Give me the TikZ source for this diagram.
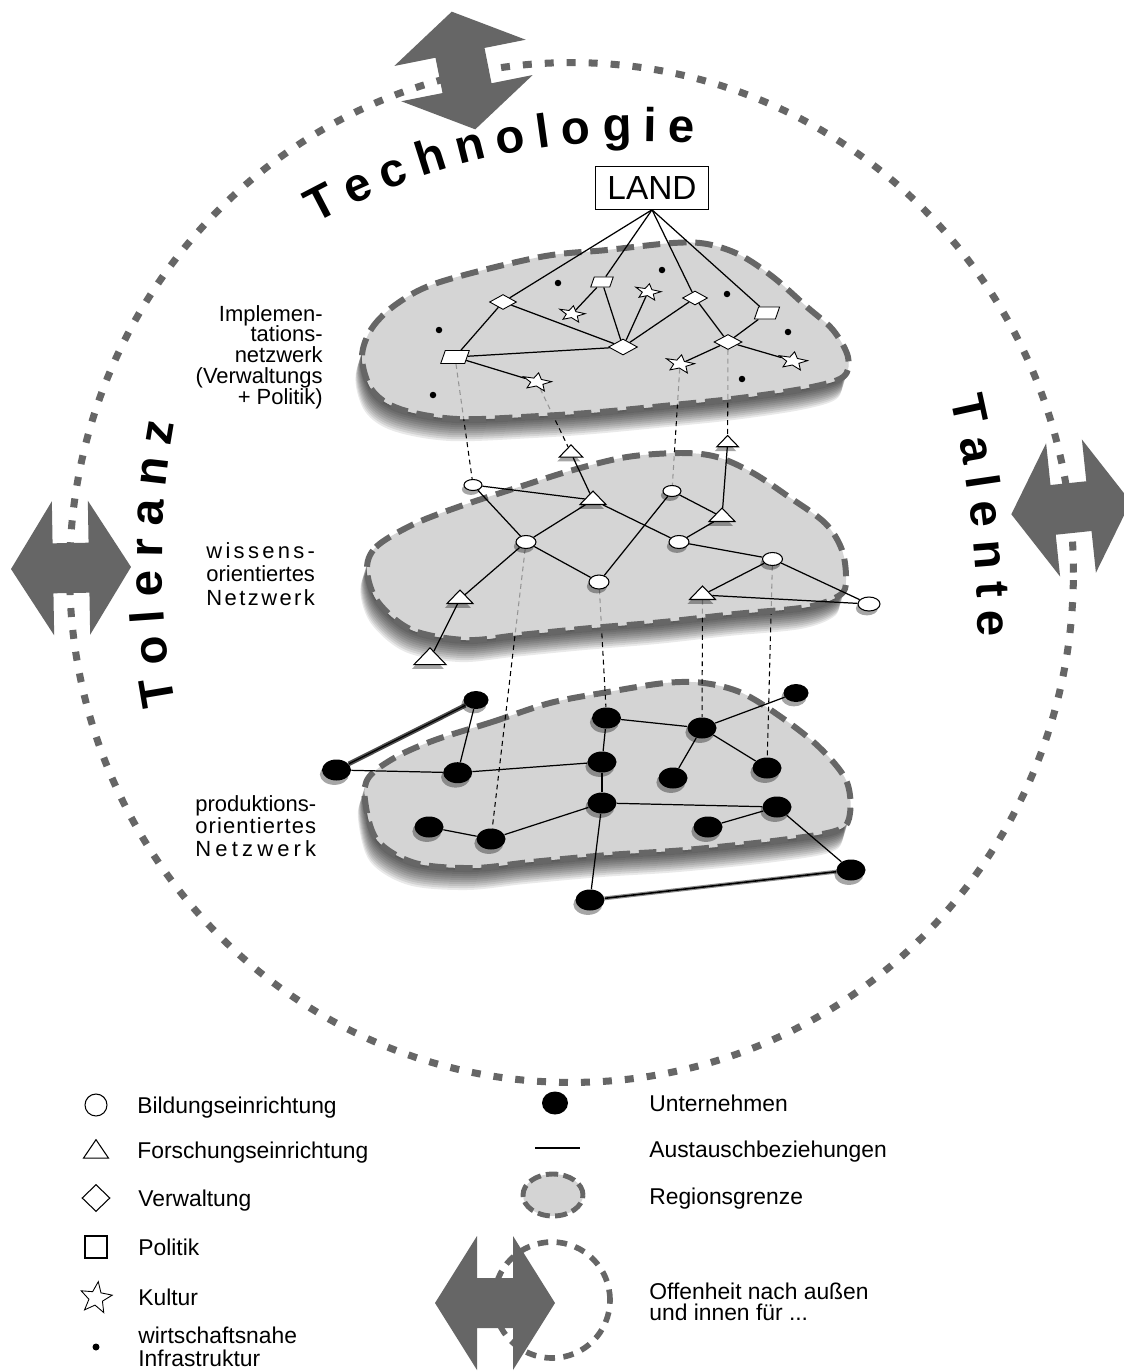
\documentclass[tikz,border=0pt]{standalone}
\usepackage{fontspec}
\setmainfont{Liberation Sans}
\usetikzlibrary{shapes.geometric,decorations.text,shadows}
\definecolor{dk}{gray}{0.4}
\definecolor{blobfill}{gray}{0.78}
\definecolor{blobsolid}{gray}{0.83}
\pgfdeclarelayer{shad}
\pgfdeclarelayer{base}
\pgfdeclarelayer{conn}
\pgfdeclarelayer{fillL}
\pgfdeclarelayer{edgeL}
\pgfsetlayers{shad,base,conn,fillL,edgeL,main}
\newlength\orw
\newlength\prw
\newcommand\bigtxt{\fontsize{27}{27}\selectfont\bfseries}
\newcommand\labfont{\fontsize{12.5}{12}\selectfont}
\newcommand\blobA{plot[smooth cycle, tension=0.55] coordinates {(362,357) (372,328) (398,303) (440,282) (540,257) (607,250) (673,243) (707,244) (740,255) (773,277) (807,307) (833,330) (848,357) (843,377) (807,388) (740,398) (673,405) (600,412) (540,416) (457,419) (400,409) (372,390)}}
\newcommand\blobB{plot[smooth cycle, tension=0.55] coordinates {(367,570) (376,547) (412,525) (458,507) (519,487) (573,470) (627,457) (681,453) (717,457) (753,473) (789,497) (825,523) (842,550) (846,580) (840,595) (807,607) (735,614) (663,622) (591,628) (519,635) (466,640) (412,630) (378,602)}}
\newcommand\blobC{plot[smooth cycle, tension=0.55] coordinates {(435,740) (492,722) (550,703) (608,692) (665,683) (704,683) (742,693) (781,717) (819,747) (846,780) (850,813) (838,830) (781,840) (685,850) (608,855) (531,862) (473,868) (415,863) (377,840) (365,800) (369,777) (396,757)}}
\newcommand\dblarrow[3]{\begin{scope}[shift={(#1,#2)}, rotate=#3]
\fill[dk] (60,0) -- (18,67) -- (18,25) -- (-18,25) -- (-18,67) -- (-60,0) -- (-18,-67) -- (-18,-25) -- (18,-25) -- (18,-67) -- cycle;
\end{scope}}
\tikzset{
  blobborder/.style={draw=dk, line width=3.4pt, dash pattern=on 10pt off 5pt},
  ed/.style={line width=0.7pt},
  vd/.style={line width=0.6pt, dash pattern=on 2.8pt off 2.2pt},
  dia/.style={diamond, draw, fill=white, inner sep=0pt, line width=0.5pt},
  sqr/.style={rectangle, draw, fill=white, inner sep=0pt, line width=0.5pt, xslant=0.35},
  kst/.style={star, star points=5, star point ratio=2.3, draw, fill=white, inner sep=0pt, line width=0.5pt, minimum size=6mm, rotate=-10, yscale=0.62},
  idot/.style={circle, fill=black, inner sep=0pt, minimum size=1.3mm},
  nsh/.style={drop shadow={shadow xshift=-1.2pt, shadow yshift=-2.5pt, opacity=0.35, fill=black}},
  bel/.style={ellipse, draw, fill=white, inner sep=0pt, line width=0.6pt, minimum width=4mm, minimum height=2.6mm, nsh},
  tri/.style={regular polygon, regular polygon sides=3, draw, fill=white, inner sep=0pt, line width=0.6pt, minimum size=6mm, yscale=0.6, nsh},
  pdot/.style={ellipse, fill=black, inner sep=0pt, minimum width=5.8mm, minimum height=4.2mm, nsh},
  leg/.style={anchor=base west, inner sep=0pt, font=\fontsize{13}{12.5}\selectfont},
  legm/.style={anchor=west, inner sep=0pt, align=left},
}
\begin{document}
\settowidth{\orw}{\labfont orientiertes}%
\settowidth{\prw}{\labfont produktions-}%
\begin{tikzpicture}[x=0.02cm, y=-0.02cm]
\useasboundingbox (0,0) rectangle (1124,1372);
\begin{pgfonlayer}{shad}
\fill[white] (0,0) rectangle (1124,1372);
\foreach \s in {2,4,...,22}{
  \fill[black, opacity=0.085, shift={({-0.3*\s},\s)}] \blobA;
  \fill[black, opacity=0.085, shift={({-0.3*\s},\s)}] \blobB;
  \fill[black, opacity=0.085, shift={({-0.3*\s},\s)}] \blobC;
}
\end{pgfonlayer}
\begin{pgfonlayer}{base}
\fill[white] \blobA;
\fill[white] \blobB;
\fill[blobsolid] \blobC;
\draw[blobborder] \blobC;
\end{pgfonlayer}
\begin{pgfonlayer}{fillL}
\fill[blobfill, fill opacity=0.75] \blobA;
\draw[blobborder] \blobA;
\fill[blobfill, fill opacity=0.75] \blobB;
\draw[blobborder] \blobB;
\end{pgfonlayer}

% big circle and arrows
\draw[dk, line width=4pt, dash pattern=on 5.1pt off 7.4pt] (571.5,572.5) ellipse [x radius=10.04cm, y radius=10.2cm];
\dblarrow{463.5}{70.5}{101.3}
\dblarrow{71}{568}{1}
\dblarrow{1071}{508}{6}

% curved words
\path[decorate, decoration={text along path, text align={fit to path}, text={|\bigtxt|Technologie}}]
  ({638+672*cos(118.7)},{813-672*sin(118.7)}) arc[start angle=118.7, end angle=85.2, radius=13.44cm];
\path[decorate, decoration={text along path, text align={fit to path}, text={|\bigtxt|Toleranz}}]
  ({930+768*cos(190.7)},{562-768*sin(190.7)}) arc[start angle=190.7, end angle=169.6, radius=15.36cm];
\path[decorate, decoration={text along path, text align={fit to path}, text={|\bigtxt|Talente}}]
  ({-109.6+1088*cos(13)},{643.4-1088*sin(13)}) arc[start angle=13, end angle=0.35, radius=21.76cm];

% LAND
\node[draw, line width=0.6pt, minimum width=22.6mm, minimum height=8.5mm, inner sep=0pt, font=\fontsize{19}{19}\selectfont] (LAND) at (652,188) {LAND};

% layer 1 nodes
\node[dia, minimum width=5.4mm, minimum height=3mm] (D1) at (503,302) {};
\node[dia, minimum width=5mm, minimum height=2.8mm] (D2) at (695,298) {};
\node[dia, minimum width=5.8mm, minimum height=3.2mm] (D3) at (623,347) {};
\node[dia, minimum width=5.6mm, minimum height=3mm] (D4) at (728,342) {};
\node[sqr, minimum width=3.8mm, minimum height=2mm] (S1) at (602,282) {};
\node[sqr, minimum width=4.2mm, minimum height=2.4mm] (S2) at (767,313) {};
\node[sqr, minimum width=4.8mm, minimum height=2.6mm] (S3) at (455,357) {};
\node[kst, minimum size=5.4mm] (K1) at (648,292) {};
\node[kst, minimum size=5.4mm] (K2) at (572,314) {};
\node[kst] (K3) at (537,382) {};
\node[kst] (K4) at (680,364) {};
\node[kst] (K5) at (793,361) {};
\node[idot] (I1) at (558,283) {};
\node[idot] (I2) at (662,270) {};
\node[idot] (I3) at (727,294) {};
\node[idot] (I4) at (439,330) {};
\node[idot] (I5) at (788,332) {};
\node[idot] (I6) at (433,395) {};
\node[idot] (I7) at (742,379) {};

% layer 2 nodes
\node[tri, minimum size=5.4mm] (Ta) at (571,453) {};
\node[tri, minimum size=5mm] (Tb) at (727.6,443) {};
\node[tri] (T1) at (593,500) {};
\node[tri] (T2) at (722,517) {};
\node[tri] (T3) at (702.5,595) {};
\node[tri] (T4) at (460,599) {};
\node[tri, minimum size=7.4mm] (T5) at (430,659) {};
\node[bel, minimum width=3.6mm, minimum height=2.2mm] (E1) at (473,485) {};
\node[bel, minimum width=3.6mm, minimum height=2.2mm] (E2) at (672,491) {};
\node[bel] (E3) at (526,542) {};
\node[bel] (E4) at (679,542) {};
\node[bel] (E5) at (772.5,559) {};
\node[bel, minimum height=2.8mm] (E6) at (599,582) {};
\node[bel, minimum width=4.4mm, minimum height=2.8mm] (E7) at (869,604) {};

% layer 3 nodes
\node[pdot, minimum width=5mm, minimum height=3.6mm] (P1) at (476,700) {};
\node[pdot] (P2) at (336.5,770) {};
\node[pdot] (P3) at (457.7,772.7) {};
\node[pdot] (P4) at (606.5,718) {};
\node[pdot] (P5) at (702,728) {};
\node[pdot, minimum width=5mm, minimum height=3.6mm] (P6) at (796,693) {};
\node[pdot] (P7) at (602,762) {};
\node[pdot] (P8) at (673,778) {};
\node[pdot] (P9) at (767,768) {};
\node[pdot] (P10) at (602,803) {};
\node[pdot] (P11) at (777,807) {};
\node[pdot] (P12) at (429,827) {};
\node[pdot] (P13) at (491,839) {};
\node[pdot] (P14) at (708,827) {};
\node[pdot] (P15) at (851,870) {};
\node[pdot] (P16) at (590,900) {};

\begin{pgfonlayer}{edgeL}
\foreach \a in {D1,S1,D2,S2}{\draw[ed] (LAND.south) -- (\a);}
\foreach \a/\b in {D1/S3,D1/D3,S1/K2,S1/D3,K1/D3,D2/D3,D2/D4,S2/D4,S3/D3,S3/K3,D4/K4,D4/K5}{\draw[ed] (\a) -- (\b);}
\foreach \a/\b in {Ta/T1,Tb/T2,E1/T1,E1/E3,T1/E3,T1/E4,E2/T2,E2/E6,E3/E6,E3/T4,T4/T5,E4/T2,E4/E5,E5/T3,E5/E7,T3/E7}{\draw[ed] (\a) -- (\b);}
\draw[line width=2.6pt, black!70] (P2) -- (P1);
\draw[ed] (P2) -- (P1);
\foreach \a/\b in {P1/P3,P2/P3,P3/P7,P4/P7,P4/P5,P5/P6,P5/P8,P5/P9,P7/P10,P10/P11,P10/P13,P10/P16,P12/P13,P11/P14,P11/P15}{\draw[ed] (\a) -- (\b);}
\draw[line width=2.2pt, black!45] (P16) -- (P15);
\draw[line width=0.9pt] (P16) -- (P15);
\end{pgfonlayer}

\begin{pgfonlayer}{conn}
\foreach \a/\b in {S3/E1,K3/Ta,K4/E2,D4/Tb,E3/P13,E6/P4,T3/P5,E5/P9}{\draw[vd] (\a) -- (\b);}
\end{pgfonlayer}

% side labels
\node[anchor=east, align=right, inner sep=0pt, font=\fontsize{12.5}{11.8}\selectfont] (limpl) at (323,357)
  {Implemen-\\tations-\\netzwerk\\(Verwaltungs\\+ Politik)};
\node[anchor=west, align=left, inner sep=0pt, font=\fontsize{12.5}{13.4}\selectfont] (lwiss) at (206,574)
  {\makebox[\orw][s]{w\hfill i\hfill s\hfill s\hfill e\hfill n\hfill s\hfill -}\\orientiertes\\\makebox[\orw][s]{N\hfill e\hfill t\hfill z\hfill w\hfill e\hfill r\hfill k}};
\node[anchor=west, align=left, inner sep=0pt, font=\fontsize{12.5}{12.8}\selectfont] (lprod) at (195,826)
  {produktions-\\\makebox[\prw][s]{o\hfill r\hfill i\hfill e\hfill n\hfill t\hfill i\hfill e\hfill r\hfill t\hfill e\hfill s}\\\makebox[\prw][s]{N\hfill e\hfill t\hfill z\hfill w\hfill e\hfill r\hfill k}};

% legend
\node[circle, draw, line width=0.6pt, minimum size=4.4mm, inner sep=0pt] (lg1) at (96,1105) {};
\node[regular polygon, regular polygon sides=3, draw, line width=0.6pt, minimum size=5.8mm, inner sep=0pt, yscale=0.85] (lg2) at (96,1152) {};
\node[diamond, draw, line width=0.6pt, minimum width=5.6mm, minimum height=5.4mm, inner sep=0pt] (lg3) at (96,1198) {};
\node[rectangle, draw, line width=0.6pt, minimum size=4.4mm, inner sep=0pt] (lg4) at (96,1247) {};
\node[star, star points=5, star point ratio=2.3, draw, line width=0.5pt, minimum size=6.6mm, inner sep=0pt, rotate=-8] (lg5) at (96,1298) {};
\node[circle, fill=black, minimum size=1.4mm, inner sep=0pt] (lg6) at (96,1347) {};
\node[leg] (lt1) at (137,1113) {Bildungseinrichtung};
\node[leg] (lt2) at (137,1158) {Forschungseinrichtung};
\node[leg] (lt3) at (138,1206) {Verwaltung};
\node[leg] (lt4) at (138,1255) {Politik};
\node[leg] (lt5) at (138,1305) {Kultur};
\node[legm, font=\fontsize{13}{13}\selectfont] (lt6) at (138,1347) {wirtschaftsnahe\\Infrastruktur};

\node[ellipse, fill=black, minimum width=5.2mm, minimum height=4.6mm, inner sep=0pt] (lg7) at (555,1103) {};
\coordinate (lgl1) at (535,1148);
\coordinate (lgl2) at (580,1148);
\draw[ed] (lgl1) -- (lgl2);
\draw[fill=blobsolid, draw=dk, line width=2.8pt, dash pattern=on 7pt off 3pt] (553,1195) ellipse [x radius=0.6cm, y radius=0.42cm];
\draw[dk, line width=3.2pt, dash pattern=on 6pt off 4.8pt] (552,1300) circle [radius=1.16cm];
\dblarrow{495}{1303}{0}
\node[leg] (lt7) at (649,1111) {Unternehmen};
\node[leg] (lt8) at (649,1157) {Austauschbeziehungen};
\node[leg] (lt9) at (649,1204) {Regionsgrenze};
\node[legm, font=\fontsize{13}{11.6}\selectfont] (lt10) at (649,1302) {Offenheit nach außen\\und innen für ...};
\end{tikzpicture}
\end{document}
